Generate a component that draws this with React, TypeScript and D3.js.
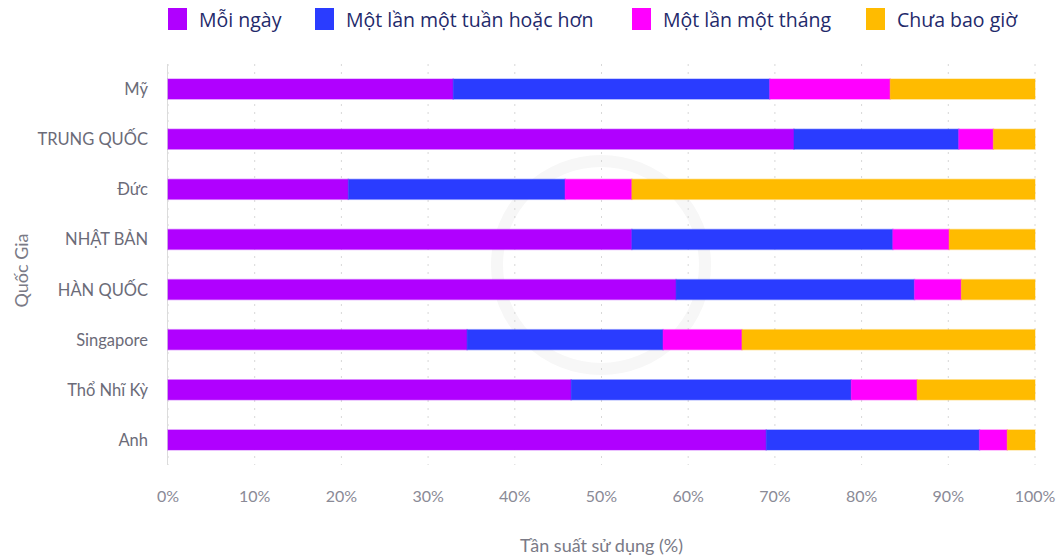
import React from "react";
import * as d3 from "d3";

const countries = ["Mỹ", "TRUNG QUỐC", "Đức", "NHẬT BẢN", "HÀN QUỐC", "Singapore", "Thổ Nhĩ Kỳ", "Anh"];
const seriesNames = ["Mỗi ngày", "Một lần một tuần hoặc hơn", "Một lần một tháng", "Chưa bao giờ"];
const daily = [32.9, 72.2, 20.8, 53.5, 58.6, 34.5, 46.5, 69.0];
const weekly = [36.5, 19.0, 25.0, 30.1, 27.5, 22.6, 32.3, 24.6];
const monthly = [13.9, 4.0, 7.7, 6.5, 5.4, 9.1, 7.6, 3.2];
const never = [16.7, 4.8, 46.5, 9.9, 8.5, 33.8, 13.6, 3.2];
const colors = ["#b000ff", "#2a3cff", "#ff00ff", "#ffbb00"];
const xTicks = [0, 10, 20, 30, 40, 50, 60, 70, 80, 90, 100];

const W = 1062, H = 557;
const m = { left: 168, right: 1035, top: 64, bottom: 465 };
const FONT = "Lato, 'Open Sans', sans-serif";
const LEGEND_FONT = "'Open Sans', Lato, sans-serif";

export default function App() {
  const x = d3.scaleLinear().domain([0, 100]).range([m.left, m.right]);
  const y = d3.scaleBand<string>().domain(countries).range([m.top, m.bottom]).paddingInner(0.6).paddingOuter(0.3);
  const rows = countries.map((c, i) => ({ country: c, s0: daily[i], s1: weekly[i], s2: monthly[i], s3: never[i] }));
  const stack = d3.stack<any>().keys(["s0", "s1", "s2", "s3"])(rows);
  const legendX = [168, 315, 632, 866];
  return (
    <div style={{ position: "absolute", left: 0, top: 0 }}>
      <svg width={W} height={H} style={{ display: "block", fontFamily: FONT }}>
        <rect width={W} height={H} fill="#fff" />
        {/* watermark */}
        <circle cx={601} cy={265} r={104} fill="none" stroke="#f7f7f7" strokeWidth={12} />
        {/* legend */}
        {seriesNames.map((s, i) => (
          <g key={s}>
            <rect x={legendX[i]} y={8} width={19} height={22} fill={colors[i]} />
            <text x={legendX[i] + 31} y={27} fontSize={19.5} fill="#1f2a6b" fontFamily={LEGEND_FONT}>{s}</text>
          </g>
        ))}
        {/* grid */}
        {xTicks.map((t) => (
          <line key={t} x1={x(t)} x2={x(t)} y1={m.top} y2={m.bottom} stroke="#d8d8d8" strokeDasharray="2,6" strokeWidth={1} />
        ))}
        <line x1={m.left - 0.5} x2={m.left - 0.5} y1={m.top} y2={m.bottom} stroke="#dcdcdc" strokeWidth={1} />
        {/* bars */}
        {stack.map((layer, li) => (
          <g key={li}>
            {layer.map((d, i) => (
              <rect
                key={i}
                x={x(d[0])}
                y={y(countries[i])!}
                width={x(d[1]) - x(d[0])}
                height={y.bandwidth()}
                fill={colors[li]}
                stroke={colors[li]}
                strokeOpacity={0.35}
                strokeWidth={1.5}
              />
            ))}
          </g>
        ))}
        {/* y labels */}
        {countries.map((c) => (
          <text key={c} x={148} y={y(c)! + y.bandwidth() / 2 + 6} textAnchor="end" fontSize={16.5} fill="#6b6b78">{c}</text>
        ))}
        {/* x labels */}
        {xTicks.map((t) => (
          <text key={t} x={x(t)} y={502} textAnchor="middle" fontSize={16} fill="#8a8a96">{t}%</text>
        ))}
        <text x={(m.left + m.right) / 2} y={552} textAnchor="middle" fontSize={18} fill="#7a7a86">Tần suất sử dụng (%)</text>
        <text transform={`translate(28,${(m.top + m.bottom) / 2 + 6}) rotate(-90)`} textAnchor="middle" fontSize={18} fill="#7a7a86">Quốc Gia</text>
      </svg>
    </div>
  );
}
